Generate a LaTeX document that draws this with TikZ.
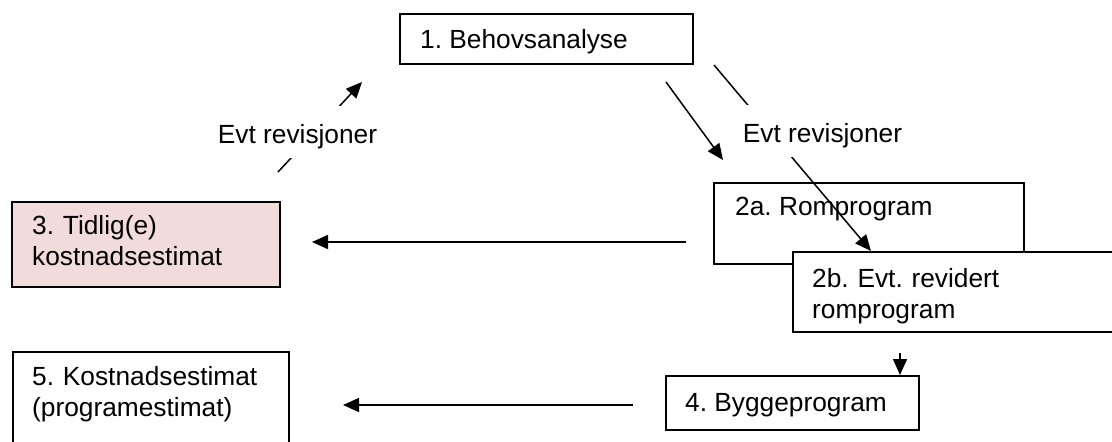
\documentclass[tikz,border=0pt]{standalone}
\usepackage{fontspec}
\setmainfont{Liberation Sans}
\usetikzlibrary{arrows.meta}
\definecolor{pinkfill}{HTML}{F2DCDB}
\frenchspacing
\begin{document}
\begin{tikzpicture}[x=1pt,y=-1pt,
  box/.style={draw=black, line width=1.5pt, rectangle, inner sep=0pt, anchor=north west, fill=white},
  txt/.style={font=\fontsize{26.3}{31.5}\selectfont\frenchspacing, inner sep=0pt, anchor=base west},
  mtxt/.style={txt, text width=300pt, align=left},
  arr/.style={line width=1.5pt, -{Triangle[length=16pt,width=14pt]}},
  lbl/.style={font=\fontsize{26.3}{31.5}\selectfont, fill=white, inner xsep=3pt, inner ysep=0pt, text height=37pt, text depth=15pt, anchor=base}
]
\useasboundingbox (0,0) rectangle (1112,442);
\clip (0,0) rectangle (1112,442);

% boxes
\node[box, minimum width=293pt, minimum height=50pt] (b1) at (399,13) {};
\node[box, fill=pinkfill, minimum width=268pt, minimum height=85pt] (b3) at (11,201) {};
\node[box, minimum width=310pt, minimum height=81pt] (b2a) at (713,182) {};
\node[box, minimum width=340pt, minimum height=80pt] (b2b) at (792,251) {};
\node[box, minimum width=253pt, minimum height=54pt] (b4) at (665,375) {};
\node[box, minimum width=276pt, minimum height=110pt] (b5) at (12,351) {};

% texts
\node[txt] (t1) at (420,48) {1. Behovsanalyse};
\node[mtxt] (t3) at (32,234) {3. Tidlig(e)\\kostnadsestimat};
\node[txt] (t2a) at (735,215) {2a. Romprogram};
\node[mtxt] (t2b) at (812,287) {2b. Evt. revidert\\romprogram};
\node[txt] (t4) at (685,411) {4. Byggeprogram};
\node[mtxt] (t5) at (32,385) {5. Kostnadsestimat\\(programestimat)};

% connector end points
\coordinate (a1s) at (278,172);
\coordinate (a1e) at (362,82);
\coordinate (a2s) at (666,82);
\coordinate (a2e) at (723,160);
\coordinate (a3s) at (714,65);
\coordinate (a3e) at (871,251);
\coordinate (a4s) at (686,242);
\coordinate (a4e) at (312,242);
\coordinate (a5s) at (633,405);
\coordinate (a5e) at (343,405);
\coordinate (a6s) at (900,353);
\coordinate (a6e) at (900,375);

% connectors
\draw[arr] (a1s) -- (a1e);
\draw[arr] (a2s) -- (a2e);
\draw[arr] (a3s) -- (a3e);
\draw[arr] (a4s) -- (a4e);
\draw[arr] (a5s) -- (a5e);
\draw[arr] (a6s) -- (a6e);

% labels
\node[lbl] (l1) at (297.5,143) {Evt revisjoner};
\node[lbl] (l2) at (822.5,142) {Evt revisjoner};
\end{tikzpicture}
\end{document}
